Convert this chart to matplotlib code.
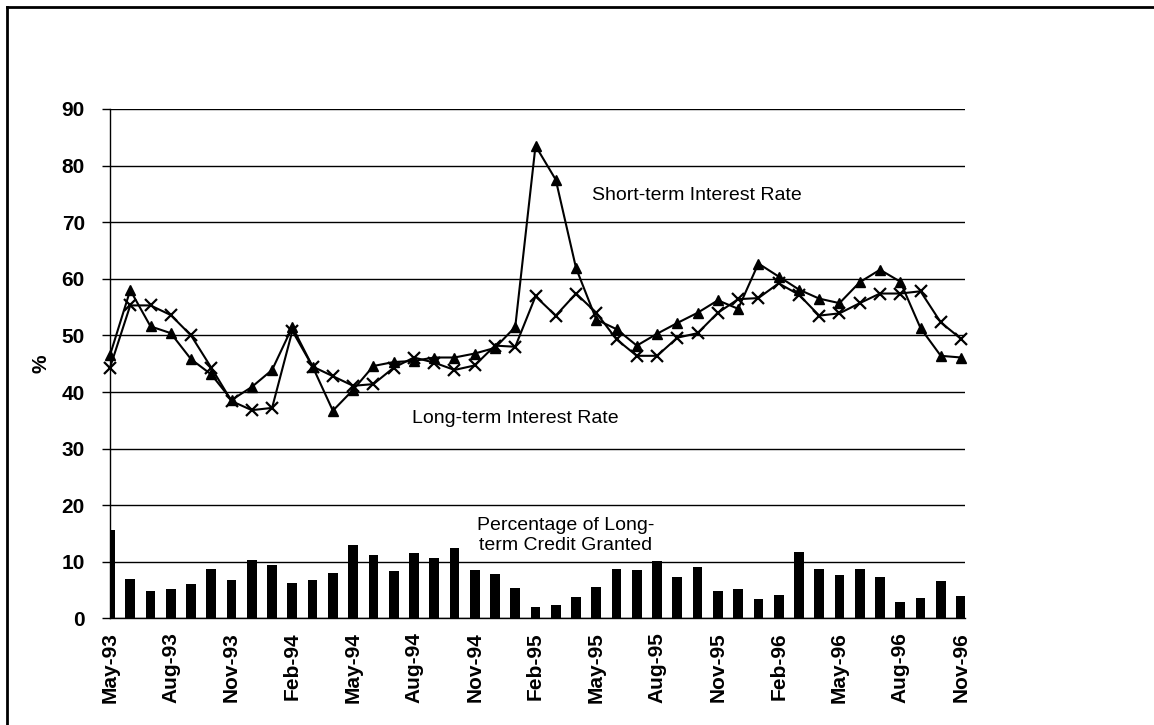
import matplotlib.pyplot as plt
from matplotlib.lines import Line2D
import numpy as np

plt.rcParams['font.family'] = ['Liberation Sans', 'DejaVu Sans']

# monthly series, May-93 .. Nov-96
short_rate = [46.5, 58.0, 51.6, 50.4, 45.8, 43.1, 38.6, 40.9,
              43.9, 51.5, 44.5, 36.7, 40.4, 44.6, 45.3, 45.5, 46.1, 46.1, 46.8, 47.8,
              51.5, 83.5, 77.5, 61.9, 52.8, 51.1, 48.2, 50.3, 52.2, 54.0, 56.2, 54.7,
              62.7, 60.4, 58.1, 56.5, 55.7, 59.4, 61.6, 59.5, 51.3, 46.4, 46.1]
long_rate = [44.3, 55.3, 55.3, 53.6, 50.0, 44.3, 38.4, 36.8,
             37.2, 50.8, 44.5, 42.8, 41.1, 41.4, 44.3, 46.1, 45.2, 43.9, 44.7, 48.2,
             48.0, 56.9, 53.5, 57.4, 54.0, 49.3, 46.4, 46.4, 49.6, 50.4, 54.0, 56.4,
             56.6, 59.2, 57.2, 53.5, 53.9, 55.7, 57.4, 57.4, 57.8, 52.3, 49.4]
credit_share = [15.6, 7.0, 4.9, 5.2, 6.1, 8.75, 6.8, 10.4,
                9.4, 6.2, 6.8, 8.1, 12.9, 11.25, 8.45, 11.5, 10.6, 12.5, 8.5, 7.8,
                5.4, 2.0, 2.4, 3.8, 5.5, 8.7, 8.6, 10.2, 7.4, 9.1, 4.9, 5.2,
                3.4, 4.1, 11.7, 8.8, 7.7, 8.7, 7.4, 3.0, 3.7, 6.6, 4.0]
tick_labels = ['May-93', 'Aug-93', 'Nov-93', 'Feb-94', 'May-94', 'Aug-94',
               'Nov-94', 'Feb-95', 'May-95', 'Aug-95', 'Nov-95', 'Feb-96',
               'May-96', 'Aug-96', 'Nov-96']

x = np.arange(len(short_rate))

fig = plt.figure(figsize=(11.54, 7.25), dpi=100)
ax = fig.add_axes([0.0953, 0.1469, 0.741, 0.7028])

ax.bar(x, credit_share, width=0.48, color='black', zorder=2)
ax.plot(x, short_rate, '-^', color='black', lw=1.5, ms=7, zorder=3, clip_on=False)
ax.plot(x, long_rate, '-x', color='black', lw=1.5, ms=8, mew=1.6, zorder=3, clip_on=False)

ax.set_xlim(0, len(x) - 0.8)
ax.set_ylim(0, 90)
ax.set_yticks(range(0, 91, 10))
ax.yaxis.grid(True, color='black', lw=1)
ax.set_axisbelow(True)

ax.set_xticks(x[::3])
ax.set_xticklabels(tick_labels, rotation=90, fontsize=15, fontweight='bold')
ax.tick_params(axis='x', length=0, pad=10)
ax.tick_params(axis='y', length=6, width=1, labelsize=15, pad=12)
for lab in ax.get_yticklabels():
    lab.set_fontweight('bold')

ax.spines['top'].set_visible(False)
ax.spines['right'].set_visible(False)
ax.spines['left'].set_linewidth(1)
ax.spines['bottom'].set_linewidth(1)

ax.set_ylabel('%', fontsize=15, fontweight='bold', labelpad=8)

ax.text(23.8, 74.8, 'Short-term Interest Rate', fontsize=14, va='center', ha='left')
ax.text(14.9, 35.4, 'Long-term Interest Rate', fontsize=14, va='center', ha='left')
ax.text(22.5, 14.7, 'Percentage of Long-\nterm Credit Granted', fontsize=14,
        va='center', ha='center', multialignment='center', linespacing=1.25)

# outer frame
fig.add_artist(Line2D([0.006, 1.0], [0.9903, 0.9903], color='black', lw=2))
fig.add_artist(Line2D([0.006, 0.006], [0.0, 0.9903], color='black', lw=2))

fig.savefig('out.png', dpi=100)
